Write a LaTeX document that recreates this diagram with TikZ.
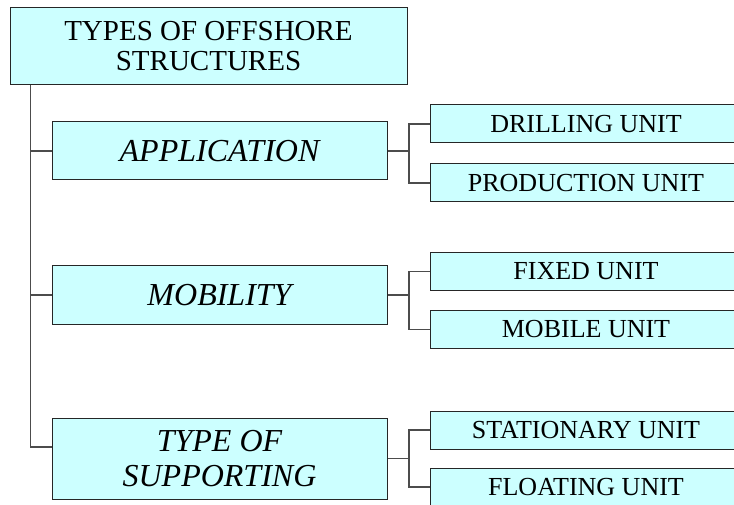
\documentclass[tikz,border=0pt]{standalone}
\usepackage{fontspec}
\setmainfont{Liberation Serif}
\usetikzlibrary{shapes,arrows,positioning}
\definecolor{boxfill}{HTML}{CCFFFF}
\tikzstyle{block} = [rectangle, draw=black!85, line width=1pt, fill=boxfill,
    inner sep=0pt, align=center]
\tikzstyle{rootblock} = [block, minimum width=397pt, minimum height=77pt,
    font=\fontsize{29}{30}\selectfont]
\tikzstyle{catblock} = [block, minimum width=335pt, minimum height=58pt,
    font=\fontsize{32}{35}\selectfont\itshape]
\tikzstyle{unitblock} = [block, minimum width=312pt, minimum height=38pt,
    font=\fontsize{26}{30}\selectfont]
\tikzstyle{line} = [draw, gray!60!black, line width=1.2pt]

\begin{document}
\begin{tikzpicture}[x=1pt, y=-1pt]
    \useasboundingbox (0,0) rectangle (734,505);
    \clip (0,0) rectangle (734,505);
    % Place nodes
    \node [rootblock] (Root) at (208.5,46.5) {TYPES OF OFFSHORE\\STRUCTURES};
    \node [catblock] (Application) at (219.5,151) {APPLICATION};
    \node [catblock] (Mobility) at (219.5,295) {MOBILITY};
    \node [catblock, minimum height=81pt, text depth=-3pt] (Supporting) at (219.5,458.5) {TYPE OF\\SUPPORTING};
    \node [unitblock] (Drilling) at (586,124) {DRILLING UNIT};
    \node [unitblock] (Production) at (586,183) {PRODUCTION UNIT};
    \node [unitblock] (Fixed) at (586,271.5) {FIXED UNIT};
    \node [unitblock] (Mobile) at (586,329.5) {MOBILE UNIT};
    \node [unitblock] (Stationary) at (586,430) {STATIONARY UNIT};
    \node [unitblock] (Floating) at (586,487) {FLOATING UNIT};
    % Fork points
    \coordinate (Trunk) at ([xshift=21pt]Root.south west);
    \coordinate (AppFork) at ([xshift=21.5pt]Application.east);
    \coordinate (MobFork) at ([xshift=21.5pt]Mobility.east);
    \coordinate (SupFork) at ([xshift=21.5pt]Supporting.east);
    % Draw edges
    \path [line] (Trunk) |- (Application.west);
    \path [line] (Trunk) |- (Mobility.west);
    \path [line] (Trunk) |- ([yshift=11.5pt]Supporting.west);
    \path [line] (Application.east) -- (AppFork) |- (Drilling.west);
    \path [line] (AppFork) |- (Production.west);
    \path [line] (Mobility.east) -- (MobFork) |- (Fixed.west);
    \path [line] (MobFork) |- (Mobile.west);
    \path [line] (Supporting.east) -- (SupFork) |- (Stationary.west);
    \path [line] (SupFork) |- (Floating.west);
\end{tikzpicture}
\end{document}
